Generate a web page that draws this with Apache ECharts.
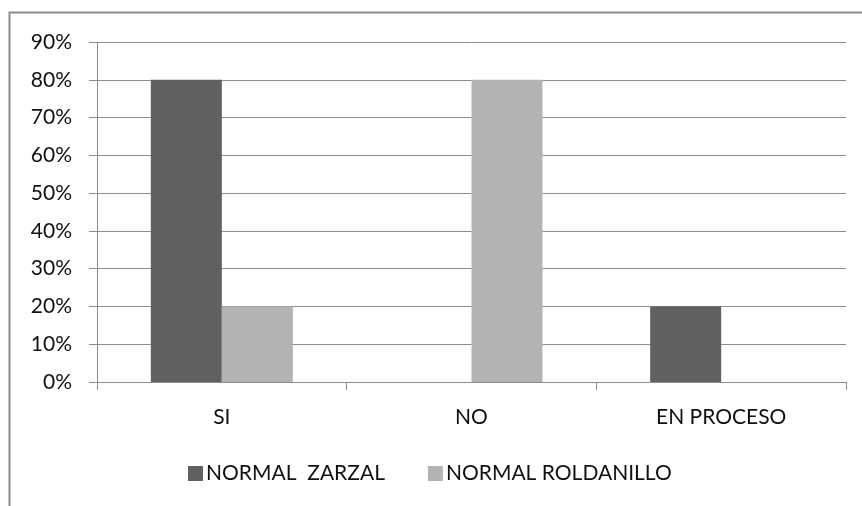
<!DOCTYPE html>
<html>
<head>
<meta charset="utf-8">
<script src="https://cdn.jsdelivr.net/npm/echarts@6/dist/echarts.min.js"></script>
<style>
* { margin: 0; padding: 0; }
body { background: #fff; }
</style>
</head>
<body>
<div id="chart" style="width: 862px;height: 506px;"></div>
<script>
// datos
const categorias = ['SI', 'NO', 'EN PROCESO']
const zarzal = [0.8, 0, 0.2]
const roldanillo = [0.2, 0.8, 0]
const nombres = ['NORMAL  ZARZAL', 'NORMAL ROLDANILLO']

const fuente = 'Lato'
const chart = echarts.init(document.getElementById('chart'))
chart.setOption({
    animation: false,
    textStyle: { fontFamily: fuente },
    graphic: [{
        type: 'rect',
        shape: { x: 9.5, y: 12.5, width: 900, height: 600 },
        style: { fill: 'none', stroke: '#8a8a8a', lineWidth: 2 }
    }],
    legend: {
        data: nombres,
        left: 183,
        top: 458,
        itemWidth: 15,
        itemHeight: 15,
        itemGap: 43,
        icon: 'rect',
        textStyle: { fontSize: 21, color: '#111', fontFamily: fuente, padding: [0, 0, 0, -2] }
    },
    grid: {
        left: 97,
        right: 16,
        top: 42,
        bottom: 124
    },
    xAxis: {
        type: 'category',
        data: categorias,
        axisLine: { lineStyle: { color: '#8c8c8c', width: 1 } },
        axisTick: { show: true, length: 8, lineStyle: { color: '#8c8c8c' } },
        axisLabel: { fontSize: 21, color: '#111', margin: 25 }
    },
    yAxis: {
        type: 'value',
        min: 0,
        max: 0.9,
        interval: 0.1,
        axisLine: { show: true, lineStyle: { color: '#8c8c8c', width: 1 } },
        axisTick: { show: true, length: 8, lineStyle: { color: '#8c8c8c' } },
        splitLine: { lineStyle: { color: '#8c8c8c', width: 1 } },
        axisLabel: {
            fontSize: 21,
            color: '#111',
            margin: 25,
            formatter: v => Math.round(v * 100) + '%'
        }
    },
    series: [
        { name: nombres[0], type: 'bar', data: zarzal, barWidth: 71, barGap: '0%', itemStyle: { color: '#616161' } },
        { name: nombres[1], type: 'bar', data: roldanillo, barWidth: 71, barGap: '0%', itemStyle: { color: '#b3b3b3' } }
    ]
})
</script>
</body>
</html>
